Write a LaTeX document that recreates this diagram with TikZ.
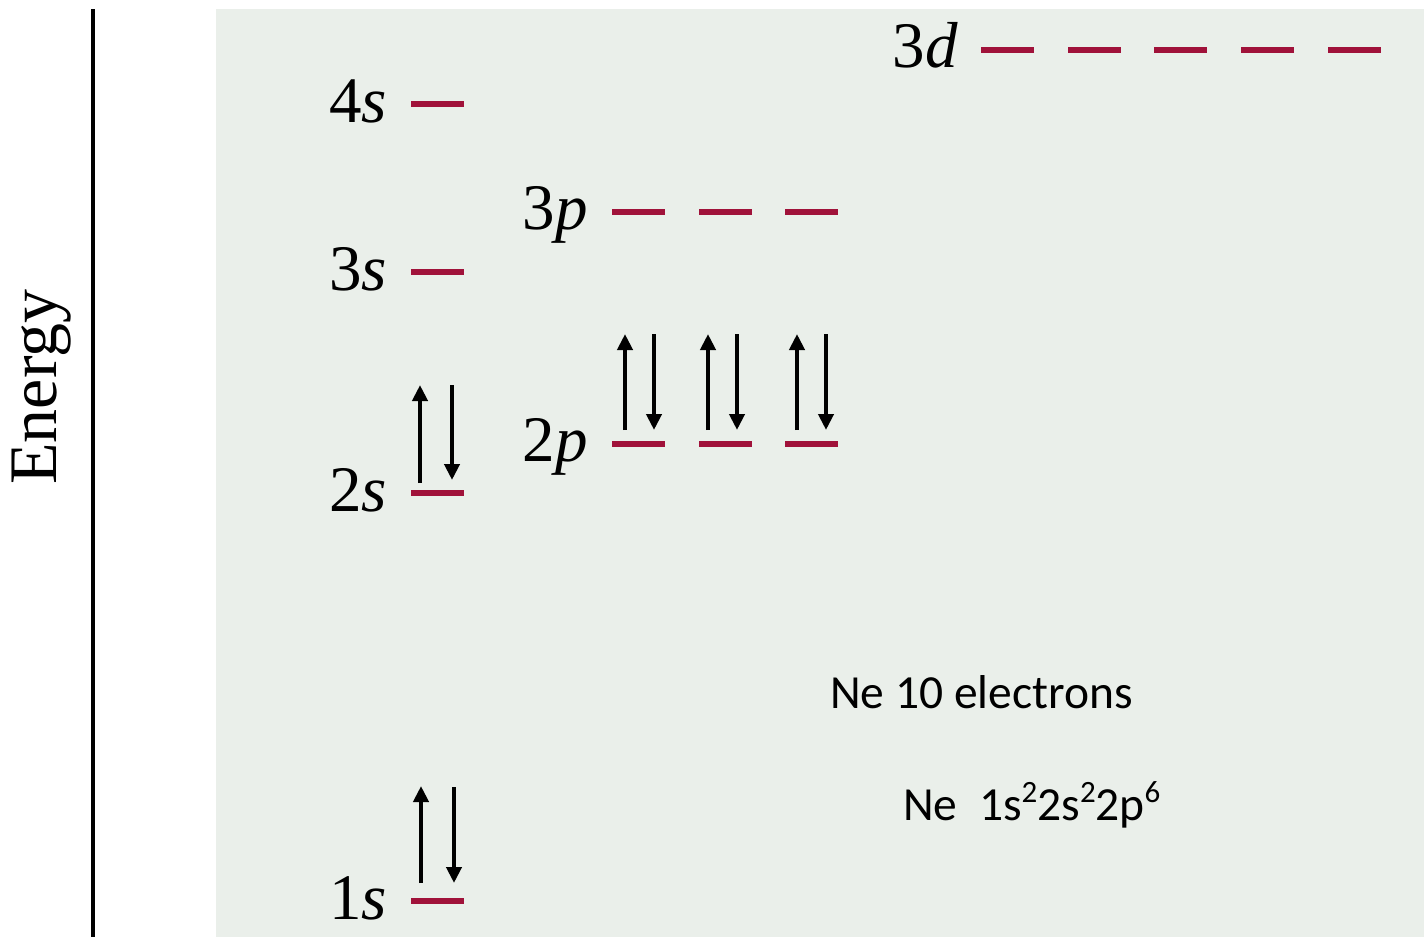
\documentclass[tikz,border=0pt]{standalone}
\usepackage{fontspec}
\setmainfont{Liberation Serif}
\newfontfamily\calib{Carlito}
\usetikzlibrary{arrows.meta}
\definecolor{bg}{RGB}{234,239,234}
\definecolor{lvl}{RGB}{160,18,58}
\newcommand{\supnum}[1]{\raisebox{0.36em}{\fontsize{31}{31}\selectfont #1}}
\tikzset{
  lvlbar/.style={fill=lvl, draw=none, minimum width=53pt, minimum height=6pt, inner sep=0pt},
  lbl/.style={anchor=base east, inner sep=0pt, font=\fontsize{65}{65}\selectfont},
  spin/.style={line width=4.2pt, -{Triangle[width=15pt,length=16pt]}},
  note/.style={anchor=base west, inner sep=0pt, font=\calib\fontsize{47.5}{47.5}\selectfont}
}
\begin{document}
\begin{tikzpicture}[x=1pt,y=-1pt]
\useasboundingbox (0,0) rectangle (1424,937);
\fill[white] (0,0) rectangle (1424,937);
\fill[bg] (216,9) rectangle (1424,937);
\draw[line width=4pt] (93,9) -- (93,937);
\node[rotate=90, font=\fontsize{68}{68}\selectfont, inner sep=0pt] (energy) at (42,387) {Energy};

% levels
\node[lvlbar] (s4) at (437,104) {};
\node[lvlbar] (s3) at (437,272) {};
\node[lvlbar] (s2) at (437,493) {};
\node[lvlbar] (s1) at (437,901) {};
\node[lvlbar] (p2a) at (638,444) {};
\node[lvlbar] (p2b) at (725,444) {};
\node[lvlbar] (p2c) at (811,444) {};
\node[lvlbar] (p3a) at (638,212) {};
\node[lvlbar] (p3b) at (725,212) {};
\node[lvlbar] (p3c) at (811,212) {};
\node[lvlbar] (d1) at (1007,50) {};
\node[lvlbar] (d2) at (1094,50) {};
\node[lvlbar] (d3) at (1180,50) {};
\node[lvlbar] (d4) at (1267,50) {};
\node[lvlbar] (d5) at (1354,50) {};

% labels
\node[lbl] (l4s) at (387,122) {4\textit{s}};
\node[lbl] (l3s) at (387,290) {3\textit{s}};
\node[lbl] (l2s) at (387,511) {2\textit{s}};
\node[lbl] (l1s) at (387,919) {1\textit{s}};
\node[lbl] (l2p) at (588,461) {2\textit{p}};
\node[lbl] (l3p) at (588,229) {3\textit{p}};
\node[lbl] (l3d) at (958,67) {3\textit{d}};

% electrons
\coordinate (a1) at (420,483); \coordinate (a1t) at (420,385);
\coordinate (a2) at (452,385); \coordinate (a2t) at (452,480);
\draw[spin] (a1) -- (a1t);
\draw[spin] (a2) -- (a2t);
\coordinate (b1) at (421,883); \coordinate (b1t) at (421,786);
\coordinate (b2) at (454,787); \coordinate (b2t) at (454,883);
\draw[spin] (b1) -- (b1t);
\draw[spin] (b2) -- (b2t);
\foreach \x/\n in {625/a,708/b,797/c}{
  \coordinate (u\n) at (\x,430); \coordinate (u\n t) at (\x,334);
  \draw[spin] (u\n) -- (u\n t);
}
\foreach \x/\n in {654/a,737/b,826/c}{
  \coordinate (v\n) at (\x,334); \coordinate (v\n t) at (\x,430);
  \draw[spin] (v\n) -- (v\n t);
}

% notes
\node[note] (n1) at (830,708) {Ne 10 electrons};
\node[note] (n2) at (903,820) {Ne\ \ 1s\supnum{2}2s\supnum{2}2p\supnum{6}};
\end{tikzpicture}
\end{document}
